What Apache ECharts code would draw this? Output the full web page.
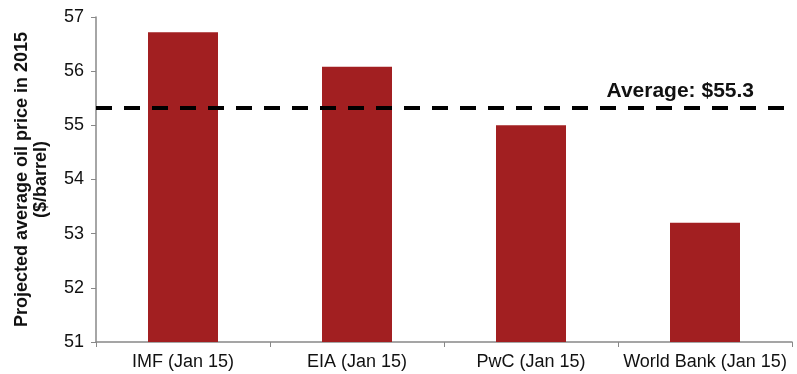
<!DOCTYPE html>
<html>
<head>
<meta charset="utf-8">
<script src="https://cdn.jsdelivr.net/npm/echarts@6/dist/echarts.min.js"></script>
<style>
  html, body { margin: 0; padding: 0; background: #fff; }
  #chart { width: 797px; height: 374px; }
</style>
</head>
<body>
<div id="chart"></div>
<script>
var categories = ['IMF (Jan 15)', 'EIA (Jan 15)', 'PwC (Jan 15)', 'World Bank (Jan 15)'];
var prices = [56.72, 56.08, 55.0, 53.2];
var averagePrice = 55.33;
var averageLabel = 'Average: $55.3';
var yTicks = { min: 51, max: 57, interval: 1 };

var chart = echarts.init(document.getElementById('chart'));
var font = '"Liberation Sans", Arial, sans-serif';
var option = {
  animation: false,
  textStyle: { fontFamily: font },
  grid: {
    left: 96,
    right: 5,
    top: 17,
    bottom: 32
  },
  xAxis: {
    type: 'category',
    data: categories,
    axisLine: { lineStyle: { color: '#888', width: 1.5 } },
    axisTick: { show: true, alignWithLabel: false, length: 5, lineStyle: { color: '#888' } },
    axisLabel: { interval: 0, color: '#111', fontSize: 18, margin: 11, fontFamily: font }
  },
  yAxis: {
    type: 'value',
    min: yTicks.min,
    max: yTicks.max,
    interval: yTicks.interval,
    name: 'Projected average oil price in 2015\n($/barrel)',
    nameLocation: 'middle',
    nameGap: 45,
    nameTextStyle: { fontSize: 18, fontWeight: 'bold', color: '#111', lineHeight: 19, fontFamily: font },
    axisLine: { show: true, lineStyle: { color: '#888', width: 1.5 } },
    axisTick: { show: true, length: 5, inside: false, lineStyle: { color: '#888' } },
    axisLabel: { color: '#111', fontSize: 18, margin: 12, fontFamily: font },
    splitLine: { show: false }
  },
  series: [{
    type: 'bar',
    data: prices,
    barWidth: 70,
    itemStyle: { color: '#A21F21' },
    markLine: {
      silent: true,
      symbol: 'none',
      data: [{ yAxis: averagePrice }],
      lineStyle: { color: '#000', width: 4, type: [16, 12] },
      label: {
        position: 'insideEndTop',
        formatter: averageLabel,
        fontSize: 21,
        fontWeight: 'bold',
        color: '#111',
        distance: [38, 6],
        fontFamily: font
      }
    }
  }]
};
chart.setOption(option);
</script>
</body>
</html>
